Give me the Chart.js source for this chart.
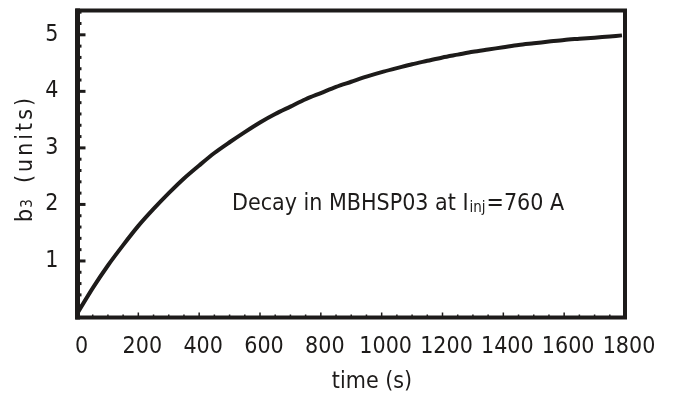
<!DOCTYPE html>
<html>
<head>
<meta charset="utf-8">
<script src="https://cdn.jsdelivr.net/npm/chart.js@4.4.1/dist/chart.umd.min.js"></script>
<style>
  html, body { margin: 0; padding: 0; background: #fff; }
  #wrap { width: 685px; height: 396px; position: relative; }
</style>
</head>
<body>
<div id="wrap"><canvas id="chart"></canvas></div>
<script>
// data
var timeS = [0, 50, 100, 150, 200, 250, 300, 350, 400, 450, 500, 550, 600, 650, 700, 750, 800, 850, 900,
  950, 1000, 1050, 1100, 1150, 1200, 1250, 1300, 1350, 1400, 1450, 1500, 1550, 1600, 1650, 1700, 1750, 1790];
var b3 = [0.08, 0.52, 0.92, 1.28, 1.62, 1.92, 2.20, 2.46, 2.69, 2.91, 3.10, 3.28, 3.45, 3.60, 3.73, 3.86, 3.97, 4.08, 4.17,
  4.26, 4.34, 4.41, 4.48, 4.54, 4.60, 4.65, 4.70, 4.74, 4.78, 4.82, 4.85, 4.88, 4.91, 4.93, 4.95, 4.97, 4.99];
var xTicks = [0, 200, 400, 600, 800, 1000, 1200, 1400, 1600, 1800];
var yTicks = [1, 2, 3, 4, 5];
var xTitle = 'time (s)';
var yTitle = ['b', '3', '(units)'];
var note = ['Decay in MBHSP03 at I', 'inj', '=760 A'];

var ink = '#1d1b1a';
var fam = '"Liberation Sans Narrow", "DejaVu Sans Condensed", "Noto Sans", sans-serif';
Chart.defaults.font.family = fam;
Chart.defaults.color = ink;

var points = timeS.map(function (t, i) { return { x: t, y: b3[i] }; });

// frame, inward ticks, titles and the note
var framePlugin = {
  id: 'frame',
  afterDraw: function (chart) {
    var ctx = chart.ctx;
    var a = chart.chartArea;
    var xs = chart.scales.x, ys = chart.scales.y;
    ctx.save();
    ctx.strokeStyle = ink;
    ctx.fillStyle = ink;

    // y ticks every 0.2, long at integers
    ctx.lineWidth = 3;
    for (var k = 1; k <= 27; k++) {
      var v = k / 5;
      var py = ys.getPixelForValue(v);
      var len = (k % 5 === 0) ? 8 : 4;
      ctx.beginPath();
      ctx.moveTo(a.left, py);
      ctx.lineTo(a.left + len, py);
      ctx.stroke();
    }
    // x ticks every 50
    ctx.lineWidth = 1.5;
    for (var t = 50; t < 1800; t += 50) {
      var px = xs.getPixelForValue(t);
      var l = (t % 200 === 0) ? 5 : 3;
      ctx.beginPath();
      ctx.moveTo(px, a.bottom);
      ctx.lineTo(px, a.bottom - l);
      ctx.stroke();
    }

    ctx.lineWidth = 4;
    ctx.strokeRect(a.left, a.top, a.right - a.left, a.bottom - a.top);
    ctx.lineWidth = 5;
    ctx.beginPath();
    ctx.moveTo(a.left, a.top - 2);
    ctx.lineTo(a.left, a.bottom + 2);
    ctx.stroke();

    // x title
    ctx.font = '23px ' + fam;
    ctx.textAlign = 'center';
    ctx.textBaseline = 'alphabetic';
    ctx.fillText(xTitle, 372, 388);

    // y title, rotated
    ctx.save();
    ctx.translate(32, 222);
    ctx.rotate(-Math.PI / 2);
    ctx.textAlign = 'left';
    ctx.font = '23px ' + fam;
    ctx.fillText(yTitle[0], 0, 0);
    var w0 = ctx.measureText(yTitle[0]).width;
    ctx.font = '15px ' + fam;
    ctx.fillText(yTitle[1], w0 + 1, 0);
    ctx.font = '23px ' + fam;
    var w2 = ctx.measureText(yTitle[2]).width;
    var gap = Math.max(0, (88 - w2) / 7);
    ctx.letterSpacing = gap.toFixed(1) + 'px';
    ctx.fillText(yTitle[2], 39, 0);
    ctx.letterSpacing = '0px';
    ctx.restore();

    // note inside the plot
    var nx = 232, ny = 210;
    ctx.textAlign = 'left';
    ctx.font = '23px ' + fam;
    ctx.fillText(note[0], nx, ny);
    nx += ctx.measureText(note[0]).width + 1;
    ctx.font = '15px ' + fam;
    ctx.fillText(note[1], nx, ny + 2);
    nx += ctx.measureText(note[1]).width + 1;
    ctx.font = '23px ' + fam;
    ctx.fillText(note[2], nx, ny);

    ctx.restore();
  }
};

new Chart(document.getElementById('chart'), {
  type: 'line',
  data: {
    datasets: [{
      data: points,
      borderColor: ink,
      borderWidth: 4,
      pointRadius: 0,
      tension: 0.3,
      fill: false
    }]
  },
  options: {
    responsive: true,
    maintainAspectRatio: false,
    animation: false,
    layout: { padding: { top: 10.5, right: 60, left: 0, bottom: 0 } },
    plugins: { legend: { display: false }, tooltip: { enabled: false } },
    scales: {
      x: {
        type: 'linear',
        min: 0,
        max: 1800,
        afterBuildTicks: function (s) { s.ticks = xTicks.map(function (v) { return { value: v }; }); },
        afterFit: function (s) { s.height = 78.5; s.paddingLeft = 0; s.paddingRight = 0; },
        grid: { display: false, drawTicks: false },
        border: { display: false },
        ticks: {
          font: { size: 23 }, padding: 16, maxRotation: 0, autoSkip: false, color: ink, labelOffset: 4,
          callback: function (v) { return String(v); }
        }
      },
      y: {
        type: 'linear',
        min: 0,
        max: 5.43,
        afterBuildTicks: function (s) { s.ticks = yTicks.map(function (v) { return { value: v }; }); },
        afterFit: function (s) { s.width = 77.5; s.paddingTop = 0; s.paddingBottom = 0; },
        grid: { display: false, drawTicks: false },
        border: { display: false },
        ticks: { font: { size: 23 }, padding: 19, color: ink, callback: function (v) { return String(v); } }
      }
    }
  },
  plugins: [framePlugin]
});
</script>
</body>
</html>
